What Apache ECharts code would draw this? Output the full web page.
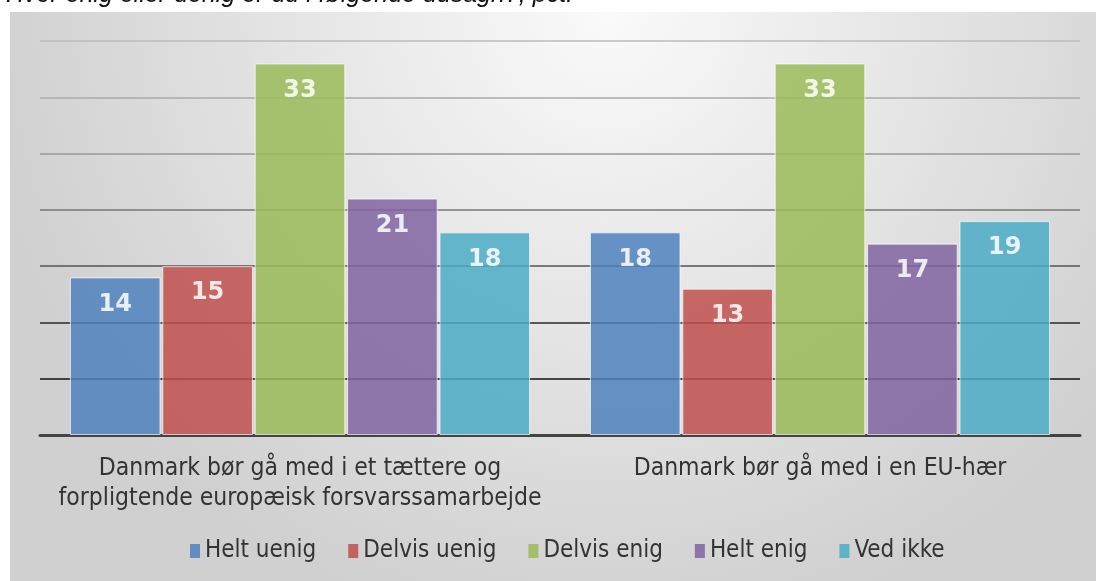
<!DOCTYPE html>
<html lang="da">
<head>
    <meta charset="UTF-8">
    <title>Enig eller uenig</title>
    <style>
        html, body { margin: 0; padding: 0; background: #fff; }
        #main { width: 1096px; height: 581px; }
    </style>
</head>
<body>
<div id="main"></div>
<script src="https://cdn.jsdelivr.net/npm/echarts@6/dist/echarts.min.js"></script>
<script>
    // data
    const categories = [
        'Danmark bør gå med i et tættere og\nforpligtende europæisk forsvarssamarbejde',
        'Danmark bør gå med i en EU-hær'
    ];
    const seriesNames = ['Helt uenig', 'Delvis uenig', 'Delvis enig', 'Helt enig', 'Ved ikke'];
    const heltUenig = [14, 18];
    const delvisUenig = [15, 13];
    const delvisEnig = [33, 33];
    const heltEnig = [21, 17];
    const vedIkke = [18, 19];
    const seriesValues = [heltUenig, delvisUenig, delvisEnig, heltEnig, vedIkke];
    const colors = ['#4F81BD', '#C0504D', '#9BBB59', '#8064A2', '#4BACC6'];

    const narrow = '"Liberation Sans Narrow", "DejaVu Sans Condensed", sans-serif';

    const chart = echarts.init(document.getElementById('main'), null, {renderer: 'canvas'});

    const series = seriesNames.map(function (name, i) {
        return {
            name: name,
            type: 'bar',
            data: seriesValues[i],
            barGap: '2%',
            barCategoryGap: '11.5%',
            itemStyle: {
                color: colors[i],
                opacity: 0.85,
                borderColor: 'rgba(255,255,255,0.8)',
                borderWidth: 1
            },
            label: {
                show: true,
                position: 'insideTop',
                distance: 15,
                color: '#fff',
                fontFamily: 'DejaVu Sans',
                fontWeight: 'bold',
                fontSize: 24
            }
        };
    });

    const option = {
        animation: false,
        graphic: [
            {
                type: 'rect',
                z: -10,
                silent: true,
                shape: {x: 10, y: 12, width: 1086, height: 569},
                style: {
                    fill: {
                        type: 'radial', x: 0.55, y: 0, r: 1.1,
                        colorStops: [
                            {offset: 0, color: '#fafafa'},
                            {offset: 1, color: '#d0d0d0'}
                        ]
                    }
                }
            },
            {
                type: 'text',
                z: -5,
                left: 6,
                top: -17,
                silent: true,
                style: {
                    text: 'Hvor enig eller uenig er du i følgende udsagn?, pct.',
                    font: 'italic 25px "Liberation Sans", Arial, sans-serif',
                    fill: '#111'
                }
            }
        ],
        grid: {left: 40, right: 16, top: 41, bottom: 146},
        legend: {
            bottom: 13,
            left: 185,
            itemWidth: 10,
            itemHeight: 14,
            itemGap: 32,
            icon: 'rect',
            itemStyle: {borderWidth: 0, opacity: 0.85},
            textStyle: {fontFamily: narrow, fontSize: 24, color: '#333'}
        },
        xAxis: {
            type: 'category',
            data: categories,
            axisLine: {lineStyle: {color: '#444', width: 3}},
            axisTick: {show: false},
            axisLabel: {
                interval: 0,
                margin: 19,
                fontFamily: narrow,
                fontSize: 24.5,
                lineHeight: 30,
                color: '#333'
            }
        },
        yAxis: {
            type: 'value',
            min: 0,
            max: 35,
            interval: 5,
            axisLabel: {show: false},
            axisLine: {show: false},
            axisTick: {show: false},
            splitLine: {
                lineStyle: {
                    width: 1.5,
                    color: ['#333', '#111', '#2a2a2a', '#555', '#777', '#999', '#aaa', '#bbb']
                }
            }
        },
        series: series
    };

    chart.setOption(option);
</script>
</body>
</html>
